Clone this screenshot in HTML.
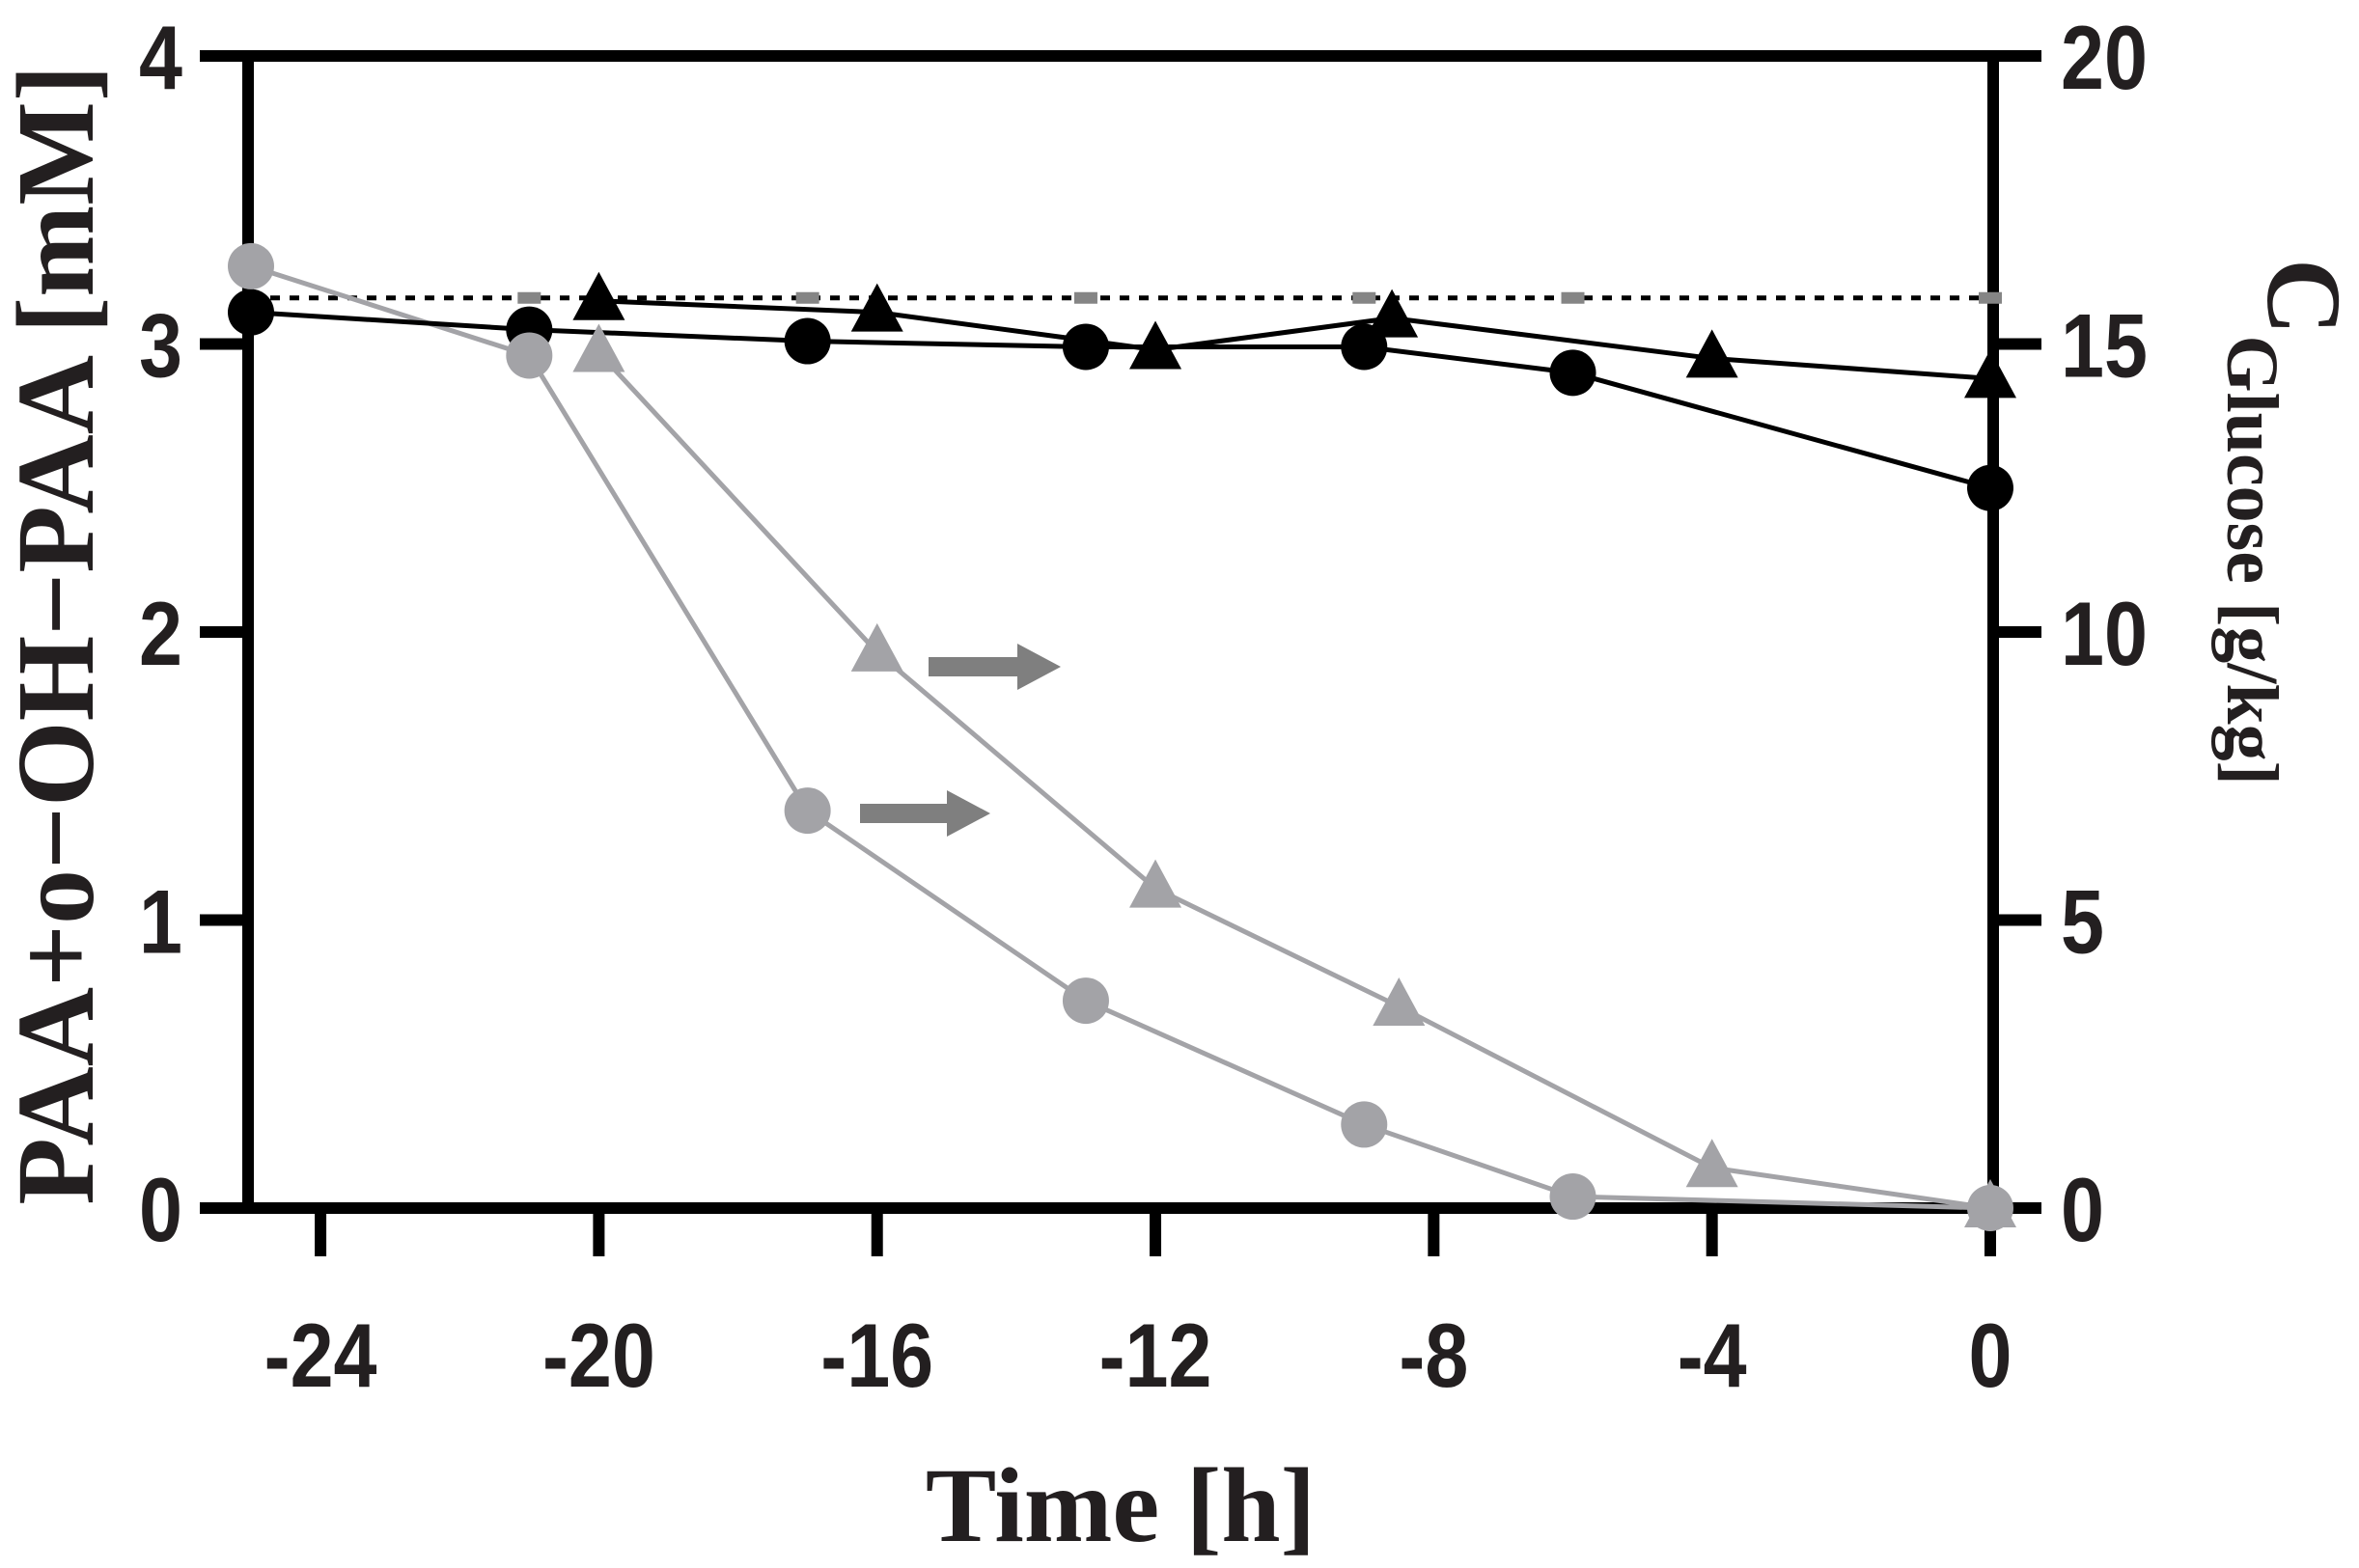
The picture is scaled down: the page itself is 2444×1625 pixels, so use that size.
<!DOCTYPE html>
<html><head><meta charset="utf-8"><style>
html,body{margin:0;padding:0;background:#fff;}
svg{display:block;}
.tk{font-family:"Liberation Sans Narrow","Liberation Sans",sans-serif;font-weight:bold;font-size:94px;fill:#231f20;}
.ttl{font-family:"Liberation Serif",serif;font-weight:bold;fill:#231f20;}
</style></head><body>
<svg id="chart" width="2444" height="1625" viewBox="0 0 2444 1625" xmlns="http://www.w3.org/2000/svg">
<g id="axes"></g>
<g id="marks"></g>
<text class="ttl" x="1161" y="1597" font-size="110" text-anchor="middle">Time [h]</text>
<text class="ttl" transform="translate(96,658) rotate(-90)" font-size="114" text-anchor="middle">PAA+o−OH−PAA [mM]</text>
<g transform="translate(2350,268) rotate(90)">
<text class="ttl" font-size="110" x="0" y="0">C<tspan font-size="76" dy="42">Glucose [g/kg]</tspan></text>
</g>
</svg>
<script>
const xTicks=[-24,-20,-16,-12,-8,-4,0];
const yLeftTicks=[0,1,2,3,4];
const yRightTicks=[0,5,10,15,20];
const blackCircleX=[-25,-21,-17,-13,-9,-6,0];
const blackCircleY=[3.11,3.05,3.01,2.99,2.99,2.90,2.50];
const blackTriX=[-20,-16,-12,-8.6,-4,0];
const blackTriY=[3.15,3.11,2.98,3.09,2.95,2.88];
const grayCircleX=[-25,-21,-17,-13,-9,-6,0];
const grayCircleG=[16.35,14.8,6.9,3.6,1.45,0.2,0];
const grayTriX=[-20,-16,-12,-8.5,-4,0];
const grayTriG=[14.85,9.65,5.55,3.5,0.7,0];
const refX=[-25,-21,-17,-13,-9,-6,0];
const refY=[3.16,3.16,3.16,3.16,3.16,3.16,3.16];

const NS="http://www.w3.org/2000/svg";
const X0=257,X1=2065,Y0=1252,Y1=58;
function sx(h){return 2062+h*72.08;}
function syL(v){return Y0-(Y0-Y1)*v/4;}
function syR(v){return Y0-(Y0-Y1)*v/20;}
function mk(tag,attrs,parent){const e=document.createElementNS(NS,tag);for(const k in attrs)e.setAttribute(k,attrs[k]);parent.appendChild(e);return e;}
const axes=document.getElementById('axes');
const marks=document.getElementById('marks');
let e;
e=mk('line',{x1:X0,y1:Y1-6,x2:X0,y2:Y0+6,stroke:'#000','stroke-width':12},axes);

e=mk('line',{x1:X1,y1:Y1-6,x2:X1,y2:Y0+6,stroke:'#000','stroke-width':12},axes);

e=mk('line',{x1:X0-50,y1:Y1,x2:X1+6,y2:Y1,stroke:'#000','stroke-width':12},axes);

e=mk('line',{x1:X0-50,y1:Y0,x2:X1+50,y2:Y0,stroke:'#000','stroke-width':12},axes);

function label(x,y,txt,anchor,name){
 const t=mk('text',{transform:`translate(${x},${y}) scale(0.86,1)`,x:0,y:0,'text-anchor':anchor,class:'tk'},axes);
 t.textContent=txt;
 
}
yLeftTicks.forEach(v=>{const y=syL(v);
 e=mk('line',{x1:X0-50,y1:y,x2:X0,y2:y,stroke:'#000','stroke-width':12},axes);
 
 label(X0-68,y+34,v,'end','left-y-tick-label');
});
yRightTicks.forEach(v=>{const y=syR(v);
 e=mk('line',{x1:X1,y1:y,x2:X1+50,y2:y,stroke:'#000','stroke-width':12},axes);
 
 label(X1+70,y+34,v,'start','right-y-tick-label');
});
xTicks.forEach(v=>{const x=sx(v);
 e=mk('line',{x1:x,y1:Y0,x2:x,y2:Y0+50,stroke:'#000','stroke-width':12},axes);
 
 label(x,1437,v,'middle','x-tick-label');
});
function poly(xs,ys,fy,color,w,name,dash){
 const p=mk('polyline',{points:xs.map((x,i)=>sx(x)+','+fy(ys[i])).join(' '),fill:'none',stroke:color,'stroke-width':w},marks);
 if(dash)p.setAttribute('stroke-dasharray',dash);
 
}
function circles(xs,ys,fy,color,name){xs.forEach((x,i)=>{
 const c=mk('circle',{cx:sx(x),cy:fy(ys[i]),r:24,fill:color},marks);
 });}
function tris(xs,ys,fy,color,name){xs.forEach((x,i)=>{const cx=sx(x),cy=fy(ys[i]);
 const t=mk('polygon',{points:`${cx},${cy-30} ${cx-27},${cy+20} ${cx+27},${cy+20}`,fill:color},marks);
 });}
poly(refX,refY,syL,'#000',5,'reference-line','10 10');
refX.forEach((x,i)=>{const r=mk('rect',{x:sx(x)-12,y:syL(refY[i])-6,width:24,height:12,fill:'#858585'},marks);
 });
poly(grayCircleX,grayCircleG,syR,'#a3a3a7',5,'glucose-circle-line');
poly(grayTriX,grayTriG,syR,'#a3a3a7',5,'glucose-triangle-line');
poly(blackCircleX,blackCircleY,syL,'#000',5,'paa-circle-line');
poly(blackTriX,blackTriY,syL,'#000',5,'paa-triangle-line');
tris(grayTriX,grayTriG,syR,'#a3a3a7','glucose-triangle-marker');
tris(blackTriX,blackTriY,syL,'#000','paa-triangle-marker');
circles(blackCircleX,blackCircleY,syL,'#000','paa-circle-marker');
circles(grayCircleX,grayCircleG,syR,'#a3a3a7','glucose-circle-marker');
function arrow(x1,x2,y,name){const a=mk('polygon',{points:`${x1},${y-10} ${x2-45},${y-10} ${x2-45},${y-24} ${x2},${y} ${x2-45},${y+24} ${x2-45},${y+10} ${x1},${y+10}`,fill:'#7f7f7f'},marks);
 }
arrow(962,1099,691,'right-axis-arrow-triangles');
arrow(891,1026,843,'right-axis-arrow-circles');
</script>
</body></html>
